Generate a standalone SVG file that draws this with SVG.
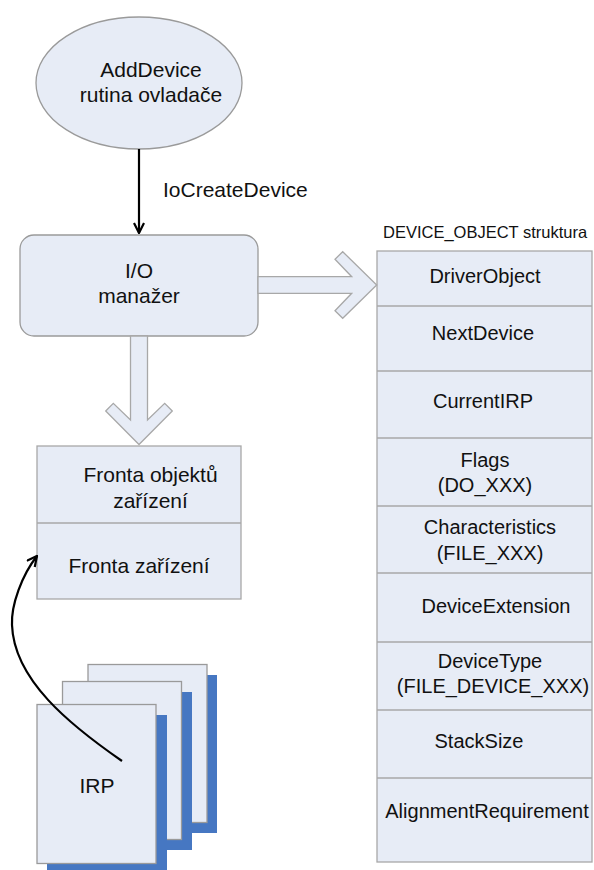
<svg xmlns="http://www.w3.org/2000/svg" width="594" height="870" viewBox="0 0 594 870">
<style>
  .shape { fill: #e7ecf6; stroke: #9a9a9a; stroke-width: 1.3; }
  .blk { fill: #e7ecf6; stroke: #a8a8a8; stroke-width: 1.3; }
  .txt { font-family: "Liberation Sans", Arial, sans-serif; font-size: 21px; fill: #111; text-anchor: middle; }
  .row { font-family: "Liberation Sans", Arial, sans-serif; font-size: 20px; fill: #111; text-anchor: middle; }
  .cap { font-family: "Liberation Sans", Arial, sans-serif; font-size: 16.5px; fill: #111; }
  .shadow { fill: #4677c2; }
  .wire { fill: none; stroke: #000; stroke-width: 2.2; }
  .div { stroke: #a8a8a8; stroke-width: 1.3; }
</style>
<defs>
  <marker id="arr" viewBox="0 0 12 12" refX="11" refY="6" markerWidth="12" markerHeight="12" markerUnits="userSpaceOnUse" orient="auto">
    <path d="M1,1 L11,6 L1,11" fill="none" stroke="#000" stroke-width="2.2"/>
  </marker>
</defs>

<g id="add-device">
  <ellipse class="shape" cx="139" cy="83" rx="103" ry="66"/>
  <text class="txt" x="151" y="77">AddDevice</text>
  <text class="txt" x="151" y="102">rutina ovladače</text>
</g>

<g id="io-manager">
  <rect class="shape" x="20" y="235" width="238" height="101" rx="14" ry="14"/>
  <text class="txt" x="139" y="278">I/O</text>
  <text class="txt" x="139" y="303">manažer</text>
</g>

<g id="queue">
  <rect class="blk" x="37" y="446" width="204" height="153"/>
  <line class="div" x1="37" y1="523" x2="241" y2="523"/>
  <text class="txt" x="150.5" y="482">Fronta objektů</text>
  <text class="txt" x="150.5" y="508">zařízení</text>
  <text class="txt" x="139" y="573">Fronta zařízení</text>
</g>

<g id="device-object">
  <text class="cap" x="383" y="238">DEVICE_OBJECT struktura</text>
  <rect class="blk" x="377" y="251" width="215" height="611"/>
  <line class="div" x1="377" y1="306" x2="592" y2="306"/>
  <line class="div" x1="377" y1="371" x2="592" y2="371"/>
  <line class="div" x1="377" y1="438" x2="592" y2="438"/>
  <line class="div" x1="377" y1="506" x2="592" y2="506"/>
  <line class="div" x1="377" y1="573" x2="592" y2="573"/>
  <line class="div" x1="377" y1="642" x2="592" y2="642"/>
  <line class="div" x1="377" y1="710" x2="592" y2="710"/>
  <line class="div" x1="377" y1="778" x2="592" y2="778"/>
  <text class="row" x="485" y="283">DriverObject</text>
  <text class="row" x="483" y="340">NextDevice</text>
  <text class="row" x="483" y="408">CurrentIRP</text>
  <text class="row" x="485" y="467">Flags</text>
  <text class="row" x="485" y="492">(DO_XXX)</text>
  <text class="row" x="490" y="534">Characteristics</text>
  <text class="row" x="490" y="560">(FILE_XXX)</text>
  <text class="row" x="496" y="613">DeviceExtension</text>
  <text class="row" x="490" y="668">DeviceType</text>
  <text class="row" x="493" y="693">(FILE_DEVICE_XXX)</text>
  <text class="row" x="479" y="748">StackSize</text>
  <text class="row" x="487" y="818">AlignmentRequirement</text>
</g>

<g id="irp">
  <rect class="shadow" x="98" y="675" width="119" height="158"/>
  <rect class="shape" x="88" y="664.5" width="119" height="158"/>
  <rect class="shadow" x="73" y="692" width="119" height="158"/>
  <rect class="shape" x="62.5" y="681.5" width="119" height="158"/>
  <rect class="shadow" x="47" y="715" width="120" height="160"/>
  <rect class="shape" x="37" y="704.5" width="119" height="159"/>
  <text class="txt" x="97" y="793">IRP</text>
</g>

<g id="connectors">
  <line class="wire" x1="139" y1="149" x2="139" y2="233" marker-end="url(#arr)"/>
  <text class="txt" x="163" y="197" style="text-anchor:start">IoCreateDevice</text>
  <path class="blk" d="M258,276.7 L351.7,276.7 L335,259.3 L342.7,251.7 L376.7,285 L342.7,318.3 L335,310.7 L351.7,293.3 L258,293.3 Z"/>
  <path class="blk" d="M130.5,336 L130.5,420 L113.3,403.3 L105.7,411 L139,444.5 L172.3,411 L164.7,403.3 L147.5,420 L147.5,336 Z"/>
  <path class="wire" d="M122,761 C70,725 14,680 12,625 C11,605 22,575 37,556" marker-end="url(#arr)"/>
</g>
</svg>
